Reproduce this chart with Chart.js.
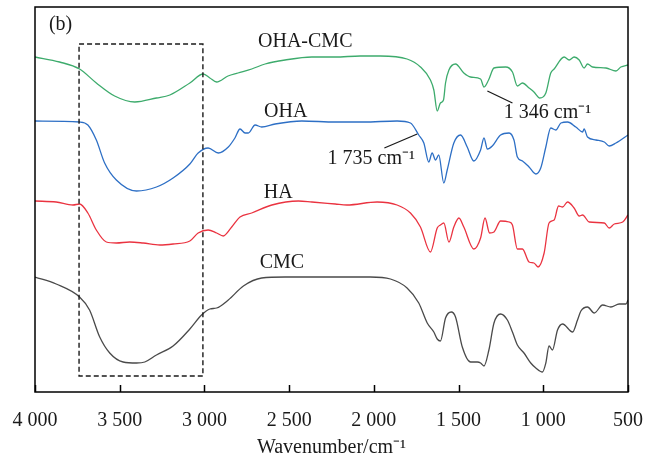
<!DOCTYPE html>
<html>
<head>
<meta charset="utf-8">
<script src="https://cdn.jsdelivr.net/npm/chart.js@4.4.1/dist/chart.umd.min.js"></script>
<style>
  html, body { margin: 0; padding: 0; background: #fff; }
  canvas { display: block; }
</style>
</head>
<body>
<canvas id="ftir" width="657" height="458"></canvas>
<script>
// FTIR spectra. Transmittance in arbitrary units, curves already offset.
const xTicks = [4000, 3500, 3000, 2500, 2000, 1500, 1000, 500];

const ohaCmcWn = [4000, 3855, 3737, 3638, 3530, 3411, 3283, 3204, 3086, 3007, 2968, 2928, 2861, 2802, 2721, 2642, 2524, 2366, 2228, 2080, 1962, 1804, 1725, 1666, 1646, 1626, 1607, 1589, 1577, 1557, 1518, 1469, 1429, 1370, 1350, 1323, 1291, 1222, 1182, 1153, 1123, 1084, 1055, 1021, 985, 956, 936, 877, 847, 818, 788, 759, 739, 709, 630, 571, 542, 500];
const ohaCmcT = [335, 330, 323, 309, 296, 290, 294, 297, 309, 318, 314, 310, 316, 319, 323, 328, 332, 335, 335, 336, 336, 333, 325, 312, 302, 281, 289, 292, 309, 322, 328, 319, 315, 313, 305, 312, 324, 325, 320, 306, 309, 304, 300, 294, 299, 319, 323, 335, 332, 335, 332, 324, 328, 325, 324, 321, 325, 327];

const ohaWn = [4000, 3737, 3688, 3638, 3589, 3520, 3401, 3283, 3185, 3086, 3037, 2978, 2918, 2859, 2820, 2790, 2760, 2741, 2701, 2662, 2583, 2425, 2228, 2060, 1863, 1784, 1735, 1705, 1676, 1656, 1636, 1617, 1587, 1567, 1528, 1488, 1449, 1410, 1370, 1350, 1330, 1301, 1252, 1202, 1173, 1153, 1123, 1084, 1044, 1015, 985, 956, 926, 896, 857, 808, 768, 759, 739, 689, 640, 611, 571, 500];
const ohaT = [271, 270, 267, 252, 229, 212, 201, 205, 214, 228, 239, 244, 239, 245, 254, 263, 259, 259, 267, 265, 268, 271, 270, 270, 271, 269, 257, 249, 230, 239, 232, 237, 209, 222, 249, 257, 245, 231, 242, 254, 243, 246, 257, 259, 252, 235, 231, 225, 218, 224, 245, 264, 262, 269, 270, 265, 260, 263, 255, 252, 250, 246, 249, 257];

const haWn = [4000, 3875, 3776, 3737, 3688, 3638, 3579, 3520, 3441, 3362, 3263, 3185, 3086, 3037, 2978, 2928, 2889, 2839, 2790, 2721, 2602, 2445, 2366, 2228, 2159, 1981, 1863, 1784, 1725, 1666, 1626, 1607, 1587, 1557, 1528, 1498, 1469, 1410, 1370, 1344, 1317, 1291, 1252, 1202, 1182, 1153, 1123, 1084, 1055, 1031, 995, 966, 936, 910, 886, 857, 818, 788, 768, 729, 640, 611, 581, 531, 500];
const haT = [191, 190, 187, 188, 179, 162, 150, 149, 150, 149, 147, 148, 151, 159, 162, 159, 156, 165, 175, 179, 187, 191, 190, 188, 187, 190, 187, 179, 165, 140, 164, 167, 169, 150, 165, 174, 165, 143, 154, 174, 159, 160, 171, 170, 167, 143, 143, 130, 129, 125, 139, 169, 172, 186, 185, 190, 184, 176, 177, 170, 169, 164, 168, 170, 177];

const cmcWn = [4000, 3875, 3737, 3678, 3618, 3559, 3480, 3401, 3352, 3283, 3185, 3086, 3017, 2968, 2928, 2859, 2770, 2662, 2524, 2327, 2228, 2021, 1902, 1804, 1735, 1685, 1646, 1626, 1607, 1577, 1543, 1518, 1478, 1429, 1389, 1370, 1350, 1321, 1291, 1252, 1212, 1182, 1153, 1114, 1074, 1044, 1005, 985, 966, 946, 916, 886, 827, 798, 778, 739, 699, 650, 601, 552, 512, 500];
const cmcT = [115, 108, 95, 82, 55, 39, 30, 29, 30, 37, 46, 63, 77, 83, 84, 92, 106, 114, 115, 115, 115, 115, 113, 104, 89, 69, 60, 53, 51, 74, 80, 75, 45, 30, 30, 29, 26, 42, 69, 78, 72, 60, 47, 39, 29, 24, 20, 29, 46, 42, 62, 68, 60, 72, 81, 85, 79, 87, 85, 88, 88, 92];

const FONT = "'Liberation Serif', 'Times New Roman', serif";
const INK = '#1a1a1a';

const toPoints = (wn, t) => wn.map((w, i) => ({ x: w, y: t[i] }));

const spectrum = (label, wn, t, color) => ({
  label,
  data: toPoints(wn, t),
  borderColor: color,
  borderWidth: 1.3,
  pointRadius: 0,
  cubicInterpolationMode: 'monotone',
  fill: false
});

const fmtTick = v => v >= 1000 ? String(v).replace(/(\d)(\d{3})$/, '$1 $2') : String(v);

// frame, inward ticks, dashed box, curve labels and leader lines
const decorations = {
  id: 'decorations',
  afterDraw(chart) {
    const { ctx, chartArea: a, scales: { x, y } } = chart;
    ctx.save();

    // dashed box around the O-H stretching band
    ctx.strokeStyle = INK;
    ctx.lineWidth = 1.4;
    ctx.setLineDash([5, 3]);
    const bx0 = x.getPixelForValue(3740), bx1 = x.getPixelForValue(3009);
    const by0 = y.getPixelForValue(348), by1 = y.getPixelForValue(16);
    ctx.strokeRect(bx0, by0, bx1 - bx0, by1 - by0);
    ctx.setLineDash([]);

    // leader lines
    ctx.lineWidth = 1.3;
    ctx.beginPath();
    ctx.moveTo(x.getPixelForValue(1938), y.getPixelForValue(244));
    ctx.lineTo(x.getPixelForValue(1744), y.getPixelForValue(258));
    ctx.moveTo(x.getPixelForValue(1330), y.getPixelForValue(301));
    ctx.lineTo(x.getPixelForValue(1182), y.getPixelForValue(289));
    ctx.stroke();

    // frame
    ctx.strokeStyle = '#000';
    ctx.lineWidth = 1.5;
    ctx.strokeRect(a.left, a.top, a.right - a.left, a.bottom - a.top);

    // ticks pointing into the plot
    ctx.beginPath();
    xTicks.forEach(v => {
      const px = Math.round(x.getPixelForValue(v)) + 0.5;
      ctx.moveTo(px, a.bottom);
      ctx.lineTo(px, a.bottom - 7);
    });
    ctx.stroke();

    // text
    ctx.fillStyle = INK;
    ctx.font = '20px ' + FONT;
    ctx.textAlign = 'center';
    ctx.textBaseline = 'middle';
    const put = (txt, wn, t) => ctx.fillText(txt, x.getPixelForValue(wn), y.getPixelForValue(t));
    put('(b)', 3849, 367);
    put('OHA-CMC', 2405, 350);
    put('OHA', 2520, 280);
    put('HA', 2565, 199);
    put('CMC', 2543, 129);
    put('1 735 cm\u207B\u00B9', 2015, 233);
    put('1 346 cm\u207B\u00B9', 975, 279);

    ctx.restore();
  }
};

new Chart(document.getElementById('ftir'), {
  type: 'line',
  data: {
    datasets: [
      spectrum('OHA-CMC', ohaCmcWn, ohaCmcT, '#3dab6c'),
      spectrum('OHA', ohaWn, ohaT, '#2d6fc5'),
      spectrum('HA', haWn, haT, '#ea3340'),
      spectrum('CMC', cmcWn, cmcT, '#4a4a4a')
    ]
  },
  options: {
    responsive: false,
    animation: false,
    layout: { padding: { left: 35, right: 29, top: 7, bottom: 0 } },
    plugins: { legend: { display: false }, tooltip: { enabled: false } },
    scales: {
      x: {
        type: 'linear',
        reverse: true,
        min: 500,
        max: 4000,
        afterBuildTicks: scale => { scale.ticks = xTicks.map(v => ({ value: v })); },
        afterFit: scale => { scale.height = 66; },
        grid: { display: false },
        border: { display: false },
        ticks: {
          padding: 9,
          maxRotation: 0,
          color: INK,
          font: { family: FONT, size: 20 },
          callback: fmtTick
        },
        title: {
          display: true,
          text: 'Wavenumber/cm\u207B\u00B9',
          color: INK,
          font: { family: FONT, size: 20 },
          padding: { top: 0, bottom: -2 }
        }
      },
      y: { display: false, min: 0, max: 385 }
    }
  },
  plugins: [decorations]
});
</script>
</body>
</html>
